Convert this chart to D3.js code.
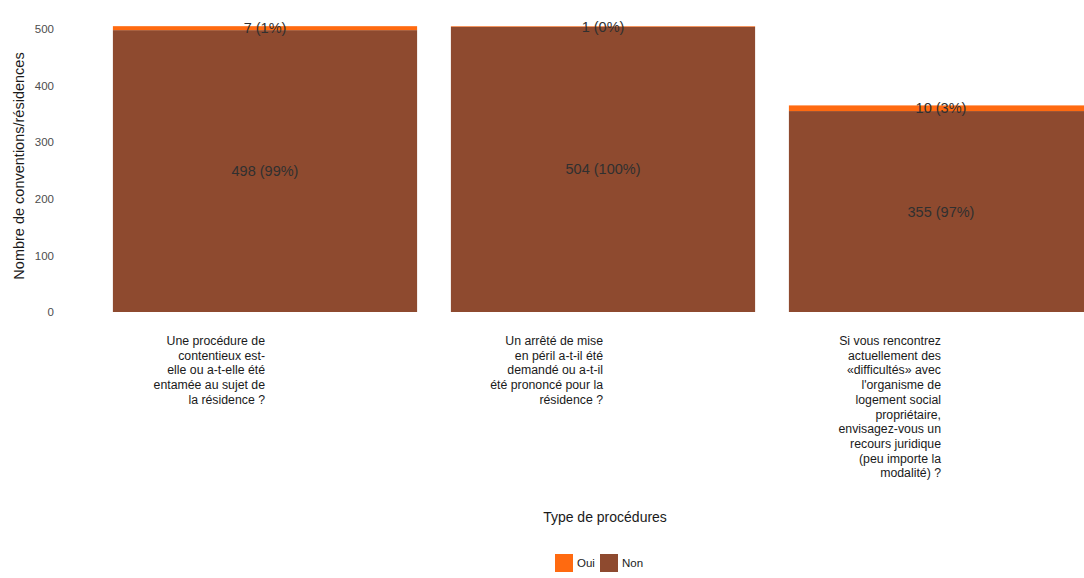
<!DOCTYPE html>
<html>
<head>
<meta charset="utf-8">
<script src="https://cdn.jsdelivr.net/npm/d3@7"></script>
<style>
  html, body { margin: 0; padding: 0; background: #ffffff; }
  svg { display: block; }
  text { font-family: "Liberation Sans", Arial, sans-serif; }
</style>
</head>
<body>
<svg id="chart" width="1084" height="578"></svg>
<script>
// ---- Data ----
const categories = [
  "Une procédure de\ncontentieux est-\nelle ou a-t-elle été\nentamée au sujet de\nla résidence ?",
  "Un arrêté de mise\nen péril a-t-il été\ndemandé ou a-t-il\nété prononcé pour la\nrésidence ?",
  "Si vous rencontrez\nactuellement des\n«difficultés» avec\nl'organisme de\nlogement social\npropriétaire,\nenvisagez-vous un\nrecours juridique\n(peu importe la\nmodalité) ?"
];
const seriesNames = ["Non", "Oui"];
const nonValues = [498, 504, 355];
const ouiValues = [7, 1, 10];
const nonLabels = ["498 (99%)", "504 (100%)", "355 (97%)"];
const ouiLabels = ["7 (1%)", "1 (0%)", "10 (3%)"];
const yTicks = [0, 100, 200, 300, 400, 500];
const legendItems = ["Oui", "Non"];
const colors = { Oui: "#ff6a10", Non: "#8e4a2f" };

// ---- Layout ----
const svg = d3.select("#chart");
const baseY = 312;
const y = d3.scaleLinear().domain([0, 500]).range([baseY, 29]);
const x = d3.scaleBand().domain(categories).range([96, 1110]).paddingInner(0.1).paddingOuter(0.05);

const rows = categories.map((c, i) => ({ cat: c, Non: nonValues[i], Oui: ouiValues[i] }));
const stack = d3.stack().keys(seriesNames)(rows);

// bars
const g = svg.append("g");
stack.forEach(layer => {
  g.selectAll(null).data(layer).enter().append("rect")
    .attr("x", d => x(d.data.cat))
    .attr("width", x.bandwidth())
    .attr("y", d => y(d[1]))
    .attr("height", d => y(d[0]) - y(d[1]))
    .attr("fill", colors[layer.key]);
});

// value labels
const labelsByKey = { Non: nonLabels, Oui: ouiLabels };
stack.forEach(layer => {
  g.selectAll(null).data(layer).enter().append("text")
    .attr("x", d => x(d.data.cat) + x.bandwidth() / 2)
    .attr("y", d => y((d[0] + d[1]) / 2))
    .attr("dy", "0.35em")
    .attr("text-anchor", "middle")
    .attr("font-size", 14.5)
    .attr("fill", "#303030")
    .text((d, i) => labelsByKey[layer.key][i]);
});

// y axis (no line, no ticks)
const yAxis = svg.append("g")
  .attr("transform", "translate(58,0)")
  .call(d3.axisLeft(y).tickValues(yTicks).tickSize(0).tickPadding(4));
yAxis.select(".domain").remove();
yAxis.selectAll("text").attr("font-size", 11.5).attr("fill", "#4d4d4d")
  .style("font-family", "'Liberation Sans', Arial, sans-serif");

// x axis labels (right-aligned at band center)
const xAxis = svg.append("g").attr("transform", `translate(0,${baseY})`)
  .call(d3.axisBottom(x).tickSize(0).tickFormat(""));
xAxis.select(".domain").remove();
categories.forEach(c => {
  const cx = x(c) + x.bandwidth() / 2;
  const t = svg.append("text")
    .attr("x", cx)
    .attr("y", 345)
    .attr("text-anchor", "end")
    .attr("font-size", 12.3)
    .attr("fill", "#1a1a1a");
  c.split("\n").forEach((line, j) => {
    t.append("tspan").attr("x", cx).attr("y", 345 + j * 14.7).text(line);
  });
});

// axis titles
svg.append("text")
  .attr("transform", `translate(24,166) rotate(-90)`)
  .attr("text-anchor", "middle")
  .attr("font-size", 14.5)
  .attr("fill", "#1a1a1a")
  .text("Nombre de conventions/résidences");

svg.append("text")
  .attr("x", 605)
  .attr("y", 522)
  .attr("text-anchor", "middle")
  .attr("font-size", 14)
  .attr("fill", "#1a1a1a")
  .text("Type de procédures");

// legend
const legendX = [555, 600];
const legend = svg.append("g");
legendItems.forEach((k, i) => {
  legend.append("rect")
    .attr("x", legendX[i]).attr("y", 554)
    .attr("width", 18).attr("height", 18)
    .attr("fill", colors[k]);
  legend.append("text")
    .attr("x", legendX[i] + 22).attr("y", 563)
    .attr("dy", "0.35em")
    .attr("font-size", 11.5)
    .attr("fill", "#1a1a1a")
    .text(k);
});
</script>
</body>
</html>
